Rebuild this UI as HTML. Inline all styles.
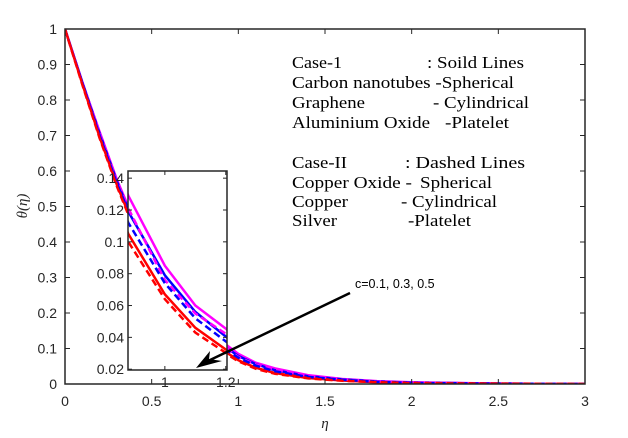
<!DOCTYPE html>
<html><head><meta charset="utf-8"><style>
html,body{margin:0;padding:0;background:#fff;}
svg{display:block;}
.tk{font-family:"Liberation Sans",sans-serif;font-size:14px;fill:#262626;}
.lg{font-family:"Liberation Serif",serif;font-size:16.5px;fill:#000;}
</style></head><body>
<svg id="chart" width="628" height="438" viewBox="0 0 628 438">
<rect x="0" y="0" width="628" height="438" fill="#fff"/>
<g id="main"></g>
<g id="inset"></g>
<g>
<text class="lg" x="292" y="68" textLength="50" lengthAdjust="spacingAndGlyphs">Case-1</text>
<text class="lg" x="427" y="68" textLength="97" lengthAdjust="spacingAndGlyphs">: Soild Lines</text>
<text class="lg" x="292" y="88" textLength="222" lengthAdjust="spacingAndGlyphs">Carbon nanotubes -Spherical</text>
<text class="lg" x="292" y="108" textLength="73" lengthAdjust="spacingAndGlyphs">Graphene</text>
<text class="lg" x="433" y="108" textLength="96" lengthAdjust="spacingAndGlyphs">- Cylindrical</text>
<text class="lg" x="292" y="128" textLength="138" lengthAdjust="spacingAndGlyphs">Aluminium Oxide</text>
<text class="lg" x="445" y="128" textLength="64" lengthAdjust="spacingAndGlyphs">-Platelet</text>
<text class="lg" x="292" y="168" textLength="55" lengthAdjust="spacingAndGlyphs">Case-II</text>
<text class="lg" x="405" y="168" textLength="120" lengthAdjust="spacingAndGlyphs">:  Dashed Lines</text>
<text class="lg" x="292" y="188" textLength="120" lengthAdjust="spacingAndGlyphs">Copper Oxide -</text>
<text class="lg" x="420" y="188" textLength="72" lengthAdjust="spacingAndGlyphs">Spherical</text>
<text class="lg" x="292" y="207" textLength="56" lengthAdjust="spacingAndGlyphs">Copper</text>
<text class="lg" x="401" y="207" textLength="96" lengthAdjust="spacingAndGlyphs">- Cylindrical</text>
<text class="lg" x="292" y="226" textLength="45" lengthAdjust="spacingAndGlyphs">Silver</text>
<text class="lg" x="408" y="226" textLength="63" lengthAdjust="spacingAndGlyphs">-Platelet</text>
</g>
<g>
<text x="355" y="288" style="font-family:'Liberation Sans',sans-serif;font-size:12.5px" fill="#000">c=0.1, 0.3, 0.5</text>
<line x1="350" y1="293" x2="208" y2="361" stroke="#000" stroke-width="2.5"/>
<polygon points="196,368 210,351 209,359 222,361" fill="#000"/>
</g>
</svg>
<script>
const etas = [0,0.1,0.2,0.3,0.4,0.5,0.6,0.7,0.8,0.88,1.0,1.1,1.21,1.4,1.6,1.8,2,2.5,3];
const magentaSolid = [1,0.85,0.71,0.575,0.46,0.36,0.28,0.215,0.165,0.129,0.085,0.06,0.044,0.025,0.014,0.008,0.005,0.001,0];
const blueSolid    = [1,0.85,0.705,0.57,0.45,0.35,0.27,0.205,0.155,0.119,0.079,0.056,0.039,0.022,0.013,0.007,0.004,0.001,0];
const magentaDash  = [1,0.85,0.705,0.57,0.452,0.352,0.272,0.207,0.157,0.121,0.076,0.055,0.041,0.023,0.013,0.007,0.004,0.001,0];
const blueDash     = [1,0.848,0.7,0.565,0.445,0.345,0.265,0.2,0.15,0.112,0.074,0.052,0.036,0.02,0.012,0.006,0.003,0.001,0];
const redSolid     = [1,0.845,0.695,0.56,0.44,0.338,0.258,0.193,0.143,0.105,0.067,0.046,0.031,0.017,0.01,0.005,0.003,0.001,0];
const redDash      = [1,0.843,0.692,0.556,0.435,0.333,0.252,0.188,0.138,0.1,0.064,0.043,0.029,0.016,0.009,0.005,0.002,0.001,0];
const xTicks = [0,0.5,1,1.5,2,2.5,3];
const xTickLabels = ["0","0.5","1","1.5","2","2.5","3"];
const yTicks = [0,0.1,0.2,0.3,0.4,0.5,0.6,0.7,0.8,0.9,1];
const yTickLabels = ["0","0.1","0.2","0.3","0.4","0.5","0.6","0.7","0.8","0.9","1"];
const insetXTicks = [1,1.2];
const insetXTickLabels = ["1","1.2"];
const insetYTicks = [0.02,0.04,0.06,0.08,0.1,0.12,0.14];
const insetYTickLabels = ["0.02","0.04","0.06","0.08","0.1","0.12","0.14"];

const NS="http://www.w3.org/2000/svg";
function mk(tag,attrs,parent){const e=document.createElementNS(NS,tag);for(const k in attrs)e.setAttribute(k,attrs[k]);parent.appendChild(e);return e;}
const series=[
 {d:magentaSolid,c:"#ff00ff",dash:null,n:"series-magenta-solid"},
 {d:blueSolid,c:"#0000ff",dash:null,n:"series-blue-solid"},
 {d:redSolid,c:"#ff0000",dash:null,n:"series-red-solid"},
 {d:magentaDash,c:"#ff00ff",dash:"7,4",n:"series-magenta-dashed"},
 {d:blueDash,c:"#0000ff",dash:"7,4",n:"series-blue-dashed"},
 {d:redDash,c:"#ff0000",dash:"7,4",n:"series-red-dashed"}];

const L=65,R=585,T=29,B=384;
const X=v=>L+(v-0)/(3-0)*(R-L), Y=v=>B-(v-0)/(1-0)*(B-T);
const main=document.getElementById('main');
const cp=mk('clipPath',{id:'mclip'},main);mk('rect',{x:L,y:T-2,width:R-L,height:B-T+2},cp);
const mg=mk('g',{'clip-path':'url(#mclip)'},main);
series.forEach(s=>{
 const p=mk('polyline',{points:etas.map((e,i)=>X(e)+','+Y(s.d[i])).join(' '),fill:'none',stroke:s.c,'stroke-width':2.5,'stroke-dasharray':s.dash||'none','stroke-linejoin':'round'},mg);
 
 
});
const frame=mk('rect',{x:L,y:T,width:R-L,height:B-T,fill:'none',stroke:'#262626','stroke-width':1.5},main);


xTicks.forEach((v,i)=>{
 mk('line',{x1:X(v),y1:B,x2:X(v),y2:B-5,stroke:'#262626'},main);
 mk('line',{x1:X(v),y1:T,x2:X(v),y2:T+5,stroke:'#262626'},main);
 const t=mk('text',{x:X(v),y:B+22,'text-anchor':'middle',class:'tk'},main);t.textContent=xTickLabels[i];
 
 
});
yTicks.forEach((v,i)=>{
 mk('line',{x1:L,y1:Y(v),x2:L+5,y2:Y(v),stroke:'#262626'},main);
 mk('line',{x1:R,y1:Y(v),x2:R-5,y2:Y(v),stroke:'#262626'},main);
 const t=mk('text',{x:L-8,y:Y(v)+5,'text-anchor':'end',class:'tk'},main);t.textContent=yTickLabels[i];
 
 
});
const xt=mk('text',{x:(L+R)/2,y:428,'text-anchor':'middle',style:"font-family:'Liberation Serif',serif;font-style:italic;font-size:15px",fill:'#262626'},main);xt.textContent='η';


const yt=mk('text',{x:0,y:0,transform:'translate(27,206) rotate(-90)','text-anchor':'middle',style:"font-family:'Liberation Serif',serif;font-style:italic;font-size:15px",fill:'#262626'},main);yt.textContent='θ(η)';



const iL=128,iR=227,iT=171,iB=370;
const ix0=0.879,ix1=1.204,iy0=0.0195,iy1=0.1445;
const IX=v=>iL+(v-ix0)/(ix1-ix0)*(iR-iL), IY=v=>iB-(v-iy0)/(iy1-iy0)*(iB-iT);
const inset=document.getElementById('inset');
const ibg=mk('rect',{x:iL,y:iT,width:iR-iL,height:iB-iT,fill:'#fff'},inset);


const icp=mk('clipPath',{id:'iclip'},inset);mk('rect',{x:iL,y:iT,width:iR-iL,height:iB-iT},icp);
const ig=mk('g',{'clip-path':'url(#iclip)'},inset);
series.forEach(s=>{
 const p=mk('polyline',{points:etas.map((e,i)=>IX(e)+','+IY(s.d[i])).join(' '),fill:'none',stroke:s.c,'stroke-width':2.5,'stroke-dasharray':s.dash||'none'},ig);
 
 
});
const ifr=mk('rect',{x:iL,y:iT,width:iR-iL,height:iB-iT,fill:'none',stroke:'#262626','stroke-width':1.5},inset);


insetXTicks.forEach((v,i)=>{
 mk('line',{x1:IX(v),y1:iB,x2:IX(v),y2:iB-4,stroke:'#262626'},inset);
 mk('line',{x1:IX(v),y1:iT,x2:IX(v),y2:iT+4,stroke:'#262626'},inset);
 const t=mk('text',{x:IX(v),y:iB+17,'text-anchor':'middle',class:'tk'},inset);t.textContent=insetXTickLabels[i];
 
 
});
insetYTicks.forEach((v,i)=>{
 mk('line',{x1:iL,y1:IY(v),x2:iL+4,y2:IY(v),stroke:'#262626'},inset);
 mk('line',{x1:iR,y1:IY(v),x2:iR-4,y2:IY(v),stroke:'#262626'},inset);
 const t=mk('text',{x:iL-4,y:IY(v)+5,'text-anchor':'end',class:'tk'},inset);t.textContent=insetYTickLabels[i];
 
 
});
</script>
</body></html>
